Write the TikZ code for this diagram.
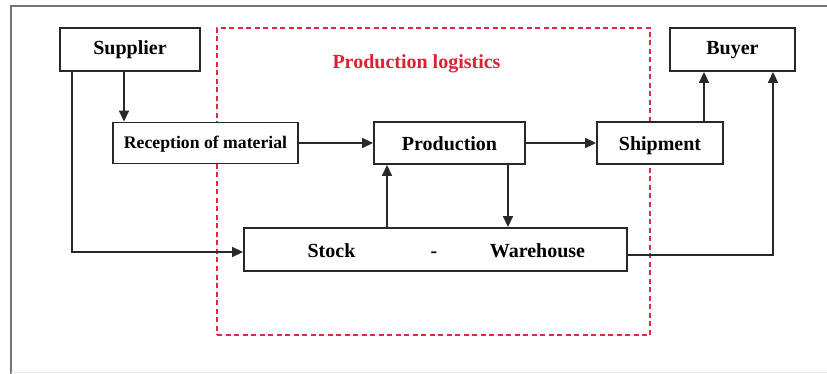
\documentclass[tikz,border=0pt]{standalone}
\usepackage{fontspec}
\setmainfont{Liberation Serif}
\usetikzlibrary{arrows.meta}
\definecolor{dashred}{RGB}{228,40,68}
\definecolor{txtred}{RGB}{222,32,52}
\definecolor{linegray}{RGB}{40,40,40}
\begin{document}
\begin{tikzpicture}[x=1pt,y=-1pt,
  box/.style={draw=linegray,line width=1.9pt,fill=white,inner sep=0pt,text height=14pt,text depth=4pt,font=\fontsize{20}{22}\selectfont\bfseries},
  lowtext/.style={text height=19pt},
  lbl/.style={inner sep=0pt,text height=19pt,text depth=4pt,font=\fontsize{20}{22}\selectfont\bfseries},
  arr/.style={draw=linegray,line width=1.7pt,-{Triangle[length=11pt,width=10pt]}},
  ln/.style={draw=linegray,line width=1.7pt}]
\useasboundingbox (0,0) rectangle (827,374);
\fill[white] (0,0) rectangle (827,374);
\begin{scope}
\clip (0,0) rectangle (827,374);
\draw[gray!90!black,line width=2pt] (10.5,400) -- (10.5,6.5) -- (840,6.5);
\draw[gray!15,line width=1pt] (10.5,372.5) -- (840,372.5);
\end{scope}
% dashed region
\node[draw=dashred,line width=1.8pt,dash pattern=on 5pt off 3.5pt,minimum width=433pt,minimum height=307pt,inner sep=0pt] (region) at (433.5,181.5) {};
\node[lbl,text=txtred,text height=16.6pt] (title) at (416.5,62) {Production logistics};
% boxes
\node[box,minimum width=140pt,minimum height=43pt] (supplier) at (130,49.5) {Supplier};
\node[box,minimum width=125pt,minimum height=43pt] (buyer) at (732.5,49.5) {Buyer};
\node[box,minimum width=185pt,minimum height=41pt,text height=14.6pt,font=\fontsize{17.7}{20}\selectfont\bfseries] (reception) at (205.5,143) {Reception of material};
\node[box,lowtext,minimum width=151pt,minimum height=42pt] (production) at (449.5,143) {Production};
\node[box,lowtext,minimum width=126pt,minimum height=42pt] (shipment) at (660,143) {Shipment};
\node[box,minimum width=383pt,minimum height=43pt] (stock) at (435.5,249.5) {};
\node[lbl] (stocklbl) at (331.5,249.5) {Stock};
\node[lbl] (dashlbl) at (434,249.5) {-};
\node[lbl] (warelbl) at (537.5,249.5) {Warehouse};
% connectors
\draw[arr] ([xshift=-6pt]supplier.south) -- ([xshift=-6pt]supplier.south |- reception.north);
\draw[arr] ([xshift=-58pt]supplier.south) |- ([yshift=-2.5pt]stock.west);
\draw[arr] (reception.east) -- (production.west);
\draw[arr] (production.east) -- (shipment.west);
\draw[arr] ([xshift=-62.5pt]production.south |- stock.north) -- ([xshift=-62.5pt]production.south);
\draw[arr] ([xshift=58.5pt]production.south) -- ([xshift=58.5pt]production.south |- stock.north);
\draw[arr] ([xshift=44pt]shipment.north) -- ([xshift=44pt]shipment.north |- buyer.south);
\draw[arr] ([yshift=-5.5pt]stock.east) -| ([xshift=40.5pt]buyer.south);
\end{tikzpicture}
\end{document}
